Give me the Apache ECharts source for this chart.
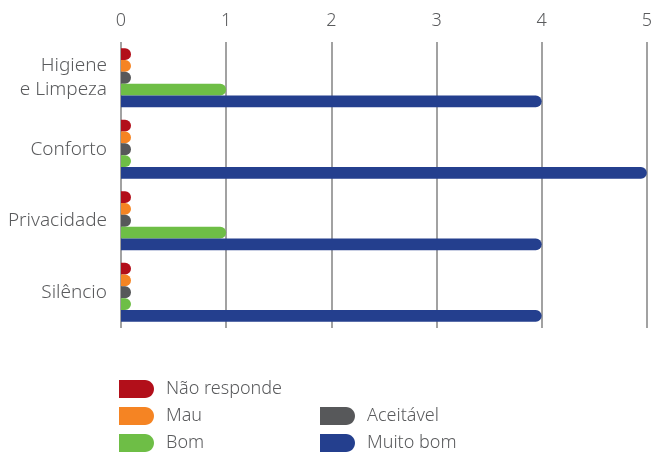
<!DOCTYPE html>
<html><head><meta charset="utf-8">
<script src="https://cdn.jsdelivr.net/npm/echarts@6/dist/echarts.min.js"></script>
<style>html,body{margin:0;padding:0;background:#fff}#c{width:655px;height:457px}</style>
</head><body><div id="c"></div>
<script>
const categories = ['Higiene\ne Limpeza', 'Conforto', 'Privacidade', 'Silêncio'];
const seriesNames = ['Não responde', 'Mau', 'Aceitável', 'Bom', 'Muito bom'];
const naoResponde = [0, 0, 0, 0];
const mau = [0, 0, 0, 0];
const aceitavel = [0, 0, 0, 0];
const bom = [1, 0, 1, 0];
const muitoBom = [4, 5, 4, 4];
const xTicks = [0, 1, 2, 3, 4, 5];

const colors = ['#B20F1A', '#F58423', '#57585A', '#6EBE46', '#243F8E'];
const values = [naoResponde, mau, aceitavel, bom, muitoBom];
const FONT = 'Noto Sans';
const TXT = '#5A5B5D';
const pill = 'path://M0,0L26,0C31,0 35,4 35,9C35,14 31,18 26,18L0,18Z';

// legend placement: [left, top] per series
const legendPos = [[119, 380], [119, 407], [320, 407], [119, 434], [320, 434]];

const chart = echarts.init(document.getElementById('c'));
chart.setOption({
  animation: false,
  grid: {left: 121, right: 5, top: 42, bottom: 129},
  xAxis: {
    type: 'value', position: 'top', min: xTicks[0], max: xTicks[xTicks.length - 1], interval: 1,
    axisLine: {show: false}, axisTick: {show: false},
    axisLabel: {margin: 12, fontFamily: FONT, fontSize: 18, fontWeight: 300, color: TXT},
    splitLine: {show: true, lineStyle: {color: '#838383', width: 1.5}}
  },
  yAxis: {
    type: 'category', data: categories, inverse: true,
    axisLine: {show: false}, axisTick: {show: false},
    axisLabel: {margin: 14, fontFamily: FONT, fontSize: 19, fontWeight: 300, color: TXT, lineHeight: 24, align: 'right'}
  },
  legend: seriesNames.map((name, i) => ({
    data: [name], left: legendPos[i][0], top: legendPos[i][1],
    itemWidth: 35, itemHeight: 18, icon: pill, padding: 0,
    itemStyle: {borderWidth: 0, borderRadius: 0},
    textStyle: {fontFamily: FONT, fontSize: 18, fontWeight: 300, color: TXT, padding: [0, 0, 0, 7]}
  })),
  series: seriesNames.map((name, i) => ({
    name, type: 'bar', data: values[i], barWidth: 11.8, barGap: '0%', barMinHeight: 10,
    itemStyle: {color: colors[i], borderRadius: [0, 6, 6, 0]}
  }))
});
</script></body></html>
